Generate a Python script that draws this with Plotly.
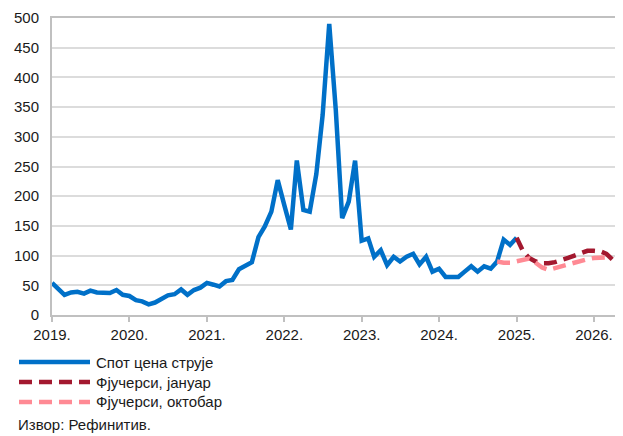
import plotly.graph_objects as go
import pandas as pd

# Spot electricity price, monthly from Jan 2019 to Jan 2025
spot_values = [
    54, 44, 34, 38, 39, 36, 41, 38, 37, 37, 42, 34,        # 2019
    32, 25, 23, 18, 21, 27, 33, 35, 43, 34, 42, 46,        # 2020
    54, 51, 48, 57, 59, 77, 83, 89, 131, 149, 174, 227,    # 2021
    185, 144, 260, 177, 174, 237, 337, 490, 345, 163, 191, 260,  # 2022
    125, 129, 98, 109, 84, 98, 90, 98, 103, 85, 98, 73,    # 2023
    78, 64, 64, 64, 73, 82, 73, 82, 78, 90, 127, 118,      # 2024
    130,                                                   # 2025
]
spot_dates = pd.date_range("2019-01-01", periods=len(spot_values), freq="MS")

# Futures curve as of January, monthly from Jan 2025
jan_values = [130, 107, 96, 90, 87, 87, 89, 92, 96, 100, 104, 108,
              108, 107, 103, 93, 82, 71]
jan_dates = pd.date_range("2025-01-01", periods=len(jan_values), freq="MS")

# Futures curve as of October, monthly from Oct 2024
oct_values = [90, 88, 88, 90, 93, 95, 88, 80, 76, 79, 82, 85, 89, 92, 94,
              96, 97, 97]
oct_dates = pd.date_range("2024-10-01", periods=len(oct_values), freq="MS")

year_ticks = [f"{y}-01-01" for y in range(2019, 2027)]
year_labels = [f"{y}." for y in range(2019, 2027)]

names = ["Спот цена струје", "Фјучерси, јануар", "Фјучерси, октобар"]
colors = ["#0070C8", "#A3182F", "#FF8A94"]
dashes = ["solid", "13px,7px", "13px,7px"]
source_text = "Извор: Рефинитив."

FONT = "Liberation Sans, Arial, sans-serif"
FS = 15
TXT = "#1a1a1a"

# figure geometry (page body has an 8px margin on every side)
W, H = 615, 428
ML, MT = 44, 10
PLOT_BOTTOM = 307
MB = H - PLOT_BOTTOM
PW, PH = W - ML, H - MT - MB


def px_x(xf):
    return (xf - ML) / PW


def px_y(yf):
    return (H - MB - yf) / PH


fig = go.Figure()
for vals, dts, name, col, dsh in zip([spot_values, jan_values, oct_values],
                                     [spot_dates, jan_dates, oct_dates],
                                     names, colors, dashes):
    fig.add_trace(go.Scatter(x=dts, y=vals, mode="lines", name=name,
                             showlegend=False,
                             line=dict(color=col, width=4.5, dash=dsh)))

# manual legend (long line samples)
shapes = []
annotations = []
leg_rows = [354, 374, 394]
for name, col, dsh, yrow in zip(names, colors, dashes, leg_rows):
    shapes.append(dict(type="line", xref="paper", yref="paper",
                       x0=px_x(11), x1=px_x(82), y0=px_y(yrow), y1=px_y(yrow),
                       line=dict(color=col, width=4.5, dash=dsh)))
    annotations.append(dict(text=name, xref="paper", yref="paper",
                            x=px_x(86), y=px_y(yrow), xanchor="left",
                            yanchor="middle", showarrow=False,
                            font=dict(size=FS, family=FONT, color=TXT)))
annotations.append(dict(text=source_text, xref="paper", yref="paper",
                        x=px_x(8), y=px_y(417), xanchor="left", yanchor="middle",
                        showarrow=False, font=dict(size=FS, family=FONT, color=TXT)))

fig.update_layout(
    width=W, height=H,
    margin=dict(l=ML, r=0, t=MT, b=MB),
    paper_bgcolor="white", plot_bgcolor="white",
    font=dict(family=FONT, size=FS, color=TXT),
    showlegend=False,
    xaxis=dict(type="date", range=["2019-01-01", "2026-05-18"],
               tickvals=year_ticks, ticktext=year_labels,
               showgrid=False, showline=True, linecolor="#C0C0C0", linewidth=2,
               mirror=True,
               ticks="outside", ticklen=5, tickwidth=1.5, tickcolor="#C0C0C0",
               tickfont=dict(size=FS, family=FONT, color=TXT)),
    yaxis=dict(range=[0, 500], dtick=50, tick0=0,
               showgrid=True, gridcolor="#DCDCDC", gridwidth=2,
               showline=True, linecolor="#C0C0C0", linewidth=2,
               zeroline=False, ticks="", ticklabelstandoff=8,
               tickfont=dict(size=FS, family=FONT, color=TXT)),
    shapes=shapes,
    annotations=annotations,
)

fig.write_html("out.html")
